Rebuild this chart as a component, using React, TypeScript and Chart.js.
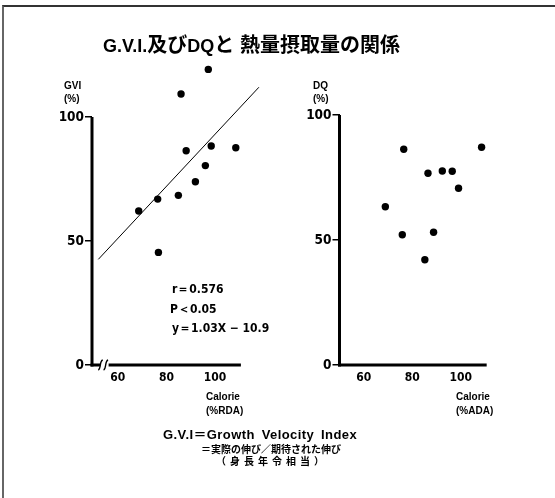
import React, { useEffect, useRef } from "react";
import { Chart, registerables } from "chart.js";

Chart.register(...registerables);

// ---- data ----
const gviCalorie = [97.2, 86.0, 98.4, 108.5, 88.1, 96.0, 91.9, 84.9, 76.4, 68.6, 76.7];
const gviValues = [119.2, 109.3, 88.3, 87.6, 86.4, 80.4, 73.9, 68.4, 66.9, 62.1, 45.4];
const regressionCalorie = [52, 118];
const regressionGvi = [42.6, 112];
const dqCalorie = [68.9, 76.5, 75.9, 86.5, 85.2, 88.8, 92.4, 96.5, 99.1, 108.6];
const dqValues = [63.3, 86.3, 52.1, 76.7, 42.1, 53.1, 77.6, 77.5, 70.7, 87.1];
const yTickValues = [0, 50, 100];
const xTickValues = [60, 80, 100];

const NUM_FONT = "'Liberation Sans Narrow', 'DejaVu Sans Condensed', 'Liberation Sans', Arial, sans-serif";
const TEXT_FONT = "'Liberation Sans', Arial, 'Noto Sans CJK JP', sans-serif";

const axisLinesPlugin = {
  id: "axisLines",
  afterDatasetsDraw(chart: any, _args: any, opts: any) {
    const { ctx } = chart;
    const xs = chart.scales.x;
    const ys = chart.scales.y;
    const y0 = ys.getPixelForValue(0);
    const yTop = ys.getPixelForValue(opts.yTo);
    const xLeft = xs.left;
    const xEnd = xs.getPixelForValue(opts.xTo);
    ctx.save();
    ctx.strokeStyle = "#000";
    ctx.lineWidth = 3;
    ctx.lineCap = "butt";
    // y axis
    ctx.beginPath();
    ctx.moveTo(xLeft, y0 + 1.5);
    ctx.lineTo(xLeft, yTop);
    ctx.stroke();
    // x axis
    if (opts.breakAt) {
      const b1 = xs.getPixelForValue(opts.breakAt[0]);
      const b2 = xs.getPixelForValue(opts.breakAt[1]);
      ctx.beginPath();
      ctx.moveTo(xLeft - 1.5, y0);
      ctx.lineTo(b1, y0);
      ctx.moveTo(b2 + 2, y0);
      ctx.lineTo(xEnd, y0);
      ctx.stroke();
      ctx.lineWidth = 1.4;
      [b1, b2 - 1].forEach((bx) => {
        ctx.beginPath();
        ctx.moveTo(bx - 2, y0 + 5);
        ctx.bezierCurveTo(bx + 1, y0 + 4, bx - 1, y0 - 4, bx + 2.5, y0 - 5);
        ctx.stroke();
      });
    } else {
      ctx.beginPath();
      ctx.moveTo(xLeft - 1.5, y0);
      ctx.lineTo(xEnd, y0);
      ctx.stroke();
    }
    ctx.restore();
  },
};

function buildOptions(cfg: any) {
  return {
    responsive: false,
    animation: false,
    devicePixelRatio: 1,
    layout: {
      autoPadding: false,
      padding: { left: 0, top: cfg.top, right: cfg.right, bottom: cfg.bottom },
    },
    plugins: {
      legend: { display: false },
      tooltip: { enabled: false },
      axisLines: cfg.axis,
    },
    scales: {
      x: {
        type: "linear",
        min: cfg.xMin,
        max: cfg.xMax,
        afterFit: (s: any) => {
          s.height = 30;
        },
        afterBuildTicks: (s: any) => {
          s.ticks = xTickValues.map((v) => ({ value: v }));
        },
        grid: { display: false, drawTicks: false },
        border: { display: false },
        ticks: {
          padding: 6,
          color: "#000",
          autoSkip: false,
          maxRotation: 0,
          font: { family: NUM_FONT, size: 12, weight: "bold" },
        },
      },
      y: {
        type: "linear",
        min: 0,
        max: cfg.yMax,
        afterFit: (s: any) => {
          s.width = cfg.yWidth;
        },
        afterBuildTicks: (s: any) => {
          s.ticks = yTickValues.map((v) => ({ value: v }));
        },
        grid: {
          drawOnChartArea: false,
          drawTicks: true,
          tickLength: 7,
          color: "#000",
          lineWidth: 1.5,
        },
        border: { display: false },
        ticks: {
          padding: 1,
          color: "#000",
          autoSkip: false,
          font: { family: NUM_FONT, size: 13.5, weight: "bold" },
        },
      },
    },
  };
}

function GviChart() {
  const ref = useRef<HTMLCanvasElement>(null);
  useEffect(() => {
    const chart = new Chart(ref.current as HTMLCanvasElement, {
      type: "scatter",
      data: {
        datasets: [
          {
            data: gviCalorie.map((x, i) => ({ x, y: gviValues[i] })),
            pointRadius: 3.7,
            pointBackgroundColor: "#000",
            pointBorderWidth: 0,
            clip: false,
          },
          {
            data: regressionCalorie.map((x, i) => ({ x, y: regressionGvi[i] })),
            showLine: true,
            borderColor: "#000",
            borderWidth: 1,
            pointRadius: 0,
            clip: false,
          },
        ],
      } as any,
      options: buildOptions({
        top: 55,
        right: 21.1,
        bottom: 25,
        yWidth: 92,
        xMin: 49.4,
        xMax: 118,
        yMax: 125,
        axis: { yTo: 100, xTo: 110.6, breakAt: [52.8, 55.4] },
      }) as any,
      plugins: [axisLinesPlugin],
    });
    return () => chart.destroy();
  }, []);
  return (
    <canvas
      ref={ref}
      width={280}
      height={420}
      style={{ position: "absolute", left: 0, top: 0 }}
    />
  );
}

function DqChart() {
  const ref = useRef<HTMLCanvasElement>(null);
  useEffect(() => {
    const chart = new Chart(ref.current as HTMLCanvasElement, {
      type: "scatter",
      data: {
        datasets: [
          {
            data: dqCalorie.map((x, i) => ({ x, y: dqValues[i] })),
            pointRadius: 3.7,
            pointBackgroundColor: "#000",
            pointBorderWidth: 0,
            clip: false,
          },
        ],
      } as any,
      options: buildOptions({
        top: 115,
        right: 67.6,
        bottom: 25,
        yWidth: 59.5,
        xMin: 50,
        xMax: 111,
        yMax: 100,
        axis: { yTo: 100, xTo: 110.7, breakAt: null },
      }) as any,
      plugins: [axisLinesPlugin],
    });
    return () => chart.destroy();
  }, []);
  return (
    <canvas
      ref={ref}
      width={275}
      height={420}
      style={{ position: "absolute", left: 280, top: 0 }}
    />
  );
}

const txt = (extra: React.CSSProperties): React.CSSProperties => ({
  position: "absolute",
  whiteSpace: "nowrap",
  color: "#000",
  fontWeight: "bold",
  fontFamily: TEXT_FONT,
  ...extra,
});

export default function App() {
  return (
    <div
      style={{
        position: "fixed",
        left: 0,
        top: 0,
        width: 555,
        height: 498,
        background: "#fff",
        overflow: "hidden",
      }}
    >
      <div
        style={{
          position: "absolute",
          left: 2,
          top: 5,
          width: 600,
          height: 600,
          borderTop: "2px solid #333",
          borderLeft: "2px solid #666",
        }}
      />
      <GviChart />
      <DqChart />
      <div style={txt({ left: 103, top: 32, fontSize: 20, lineHeight: "26px", fontFamily: "'Liberation Sans', 'Noto Sans CJK JP', sans-serif" })}>
        <span style={{ fontSize: 18 }}>G.V.I.</span>及び<span style={{ fontSize: 18 }}>DQ</span>と 熱量摂取量の関係
      </div>
      <div style={txt({ left: 64, top: 79, fontSize: 10, lineHeight: "13px" })}>
        GVI
        <br />
        (%)
      </div>
      <div style={txt({ left: 313, top: 79, fontSize: 10, lineHeight: "13px" })}>
        DQ
        <br />
        (%)
      </div>
      <div style={txt({ left: 170, top: 280, fontSize: 12, lineHeight: "19.5px", fontFamily: NUM_FONT })}>
        <div style={{ marginLeft: 2 }}>r＝0.576</div>
        <div>P＜0.05</div>
        <div style={{ marginLeft: 2 }}>y＝1.03X − 10.9</div>
      </div>
      <div style={txt({ left: 206, top: 390, fontSize: 10, lineHeight: "14px" })}>
        Calorie
        <br />
        (%RDA)
      </div>
      <div style={txt({ left: 456, top: 390, fontSize: 10, lineHeight: "14px" })}>
        Calorie
        <br />
        (%ADA)
      </div>
      <div style={txt({ left: 163, top: 427, fontSize: 13, lineHeight: "16px", letterSpacing: 0.4, wordSpacing: 3 })}>
        G.V.I＝Growth Velocity Index
      </div>
      <div style={txt({ left: 201, top: 442, fontSize: 10, lineHeight: "14px", fontFamily: "'Noto Sans CJK JP', sans-serif" })}>
        ＝実際の伸び／期待された伸び
      </div>
      <div style={txt({ left: 216, top: 454, fontSize: 10, lineHeight: "14px", letterSpacing: 4, fontFamily: "'Noto Sans CJK JP', sans-serif" })}>
        （身長年令相当）
      </div>
    </div>
  );
}
